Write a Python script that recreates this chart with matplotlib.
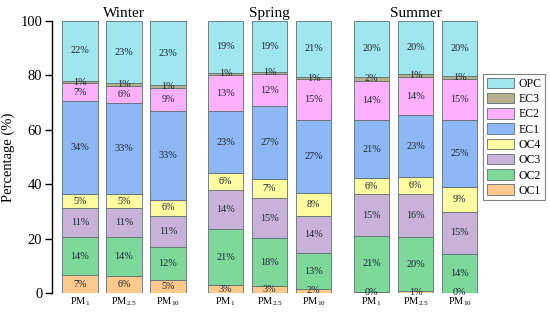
import matplotlib
matplotlib.use("Agg")
import matplotlib.pyplot as plt
import numpy as np

plt.rcParams['font.family'] = ['Liberation Serif', 'DejaVu Serif']
plt.rcParams['mathtext.fontset'] = 'custom'
plt.rcParams['mathtext.rm'] = 'Liberation Serif'
plt.rcParams['mathtext.it'] = 'Liberation Serif:italic'

seasons = ["Winter", "Spring", "Summer"]
sizes = ["PM$_{1}$", "PM$_{2.5}$", "PM$_{10}$"]
components = ["OC1", "OC2", "OC3", "OC4", "EC1", "EC2", "EC3", "OPC"]
colors = ["#FDC98D", "#7DD89A", "#C9B2DA", "#FFFBA0",
          "#8EB8F5", "#FDB0FB", "#B4B08E", "#A0E6EE"]

# percentage of each fraction, one entry per bar (Winter PM1 ... Summer PM10)
oc1 = [6.6, 6.2, 4.9, 2.8, 2.6, 1.6, 0.4, 0.6, 0.2]
oc2 = [14.0, 14.3, 12.2, 20.7, 17.6, 13.0, 20.6, 19.9, 14.3]
oc3 = [10.6, 10.6, 11.4, 14.2, 14.6, 13.8, 15.3, 15.8, 15.3]
oc4 = [5.1, 5.4, 5.8, 6.4, 7.2, 8.3, 5.8, 6.4, 9.0]
ec1 = [34.2, 33.4, 32.6, 22.6, 26.6, 26.9, 21.4, 22.6, 24.6]
ec2 = [6.6, 6.2, 8.6, 13.4, 11.9, 14.9, 14.4, 14.1, 15.3]
ec3 = [0.8, 0.9, 0.9, 0.8, 0.8, 0.9, 1.6, 0.9, 1.1]
opc = [22.1, 23.0, 23.4, 19.1, 18.7, 20.6, 20.3, 19.8, 20.2]

data = np.array([oc1, oc2, oc3, oc4, ec1, ec2, ec3, opc])

fig = plt.figure(figsize=(5.5, 3.2), dpi=100)
ax = fig.add_axes([0.0945, 0.084, 0.778, 0.851])

# three bars per season, wider gap between seasons
xpos = np.array([0, 1, 2, 3.31, 4.31, 5.31, 6.63, 7.63, 8.63])

bottom = np.zeros(len(xpos))
handles = []
for k, comp in enumerate(components):
    vals = data[k]
    b = ax.bar(xpos, vals, width=0.8, bottom=bottom, color=colors[k],
               edgecolor="#607070", linewidth=0.6, label=comp)
    handles.append(b)
    for x, v, b0 in zip(xpos, vals, bottom):
        ax.text(x, b0 + v / 2, f"{v:.0f}%", ha="center", va="center",
                fontsize=7.3, color="#1a2530")
    bottom += vals

ax.set_xlim(-0.636, 9.09)
ax.set_ylim(0, 100)
ax.set_yticks([0, 20, 40, 60, 80, 100])
ax.tick_params(axis="y", direction="out", length=5, width=1, labelsize=10.5, pad=2)
ax.set_xticks(xpos)
ax.set_xticklabels(sizes * 3, fontsize=7.5)
ax.tick_params(axis="x", length=0, pad=2)
for s in ["top", "right", "bottom"]:
    ax.spines[s].set_visible(False)
ax.spines["left"].set_linewidth(1)
ax.set_ylabel("Percentage (%)", fontsize=10.5, labelpad=4)

for g, name in enumerate(seasons):
    ax.text(xpos[g * 3 + 1], 101.5, name, ha="center", va="baseline",
            fontsize=11, clip_on=False)

leg = fig.legend(handles[::-1], components[::-1], loc="upper left",
                 bbox_to_anchor=(483 / 550, 1 - 74 / 320), fontsize=8.5,
                 handlelength=2.3, handleheight=1.0, labelspacing=0.25,
                 handletextpad=0.4, borderpad=0.3, borderaxespad=0,
                 fancybox=False, edgecolor="#808080", framealpha=1)
leg.get_frame().set_linewidth(0.8)

fig.savefig("out.png", dpi=100)
